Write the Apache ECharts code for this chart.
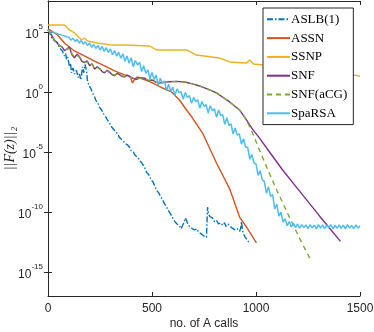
<!DOCTYPE html>
<html>
<head>
<meta charset="utf-8">
<script src="https://cdn.jsdelivr.net/npm/echarts@6/dist/echarts.min.js"></script>
<style>html,body{margin:0;padding:0;background:#fff}#c{width:374px;height:332px}</style>
</head>
<body>
<div id="c"></div>
<script>
// Values: arrays *Log hold log10(||F(z)||_2)
const seriesNames = ['ASLB(1)', 'ASSN', 'SSNP', 'SNF', 'SNF(aCG)', 'SpaRSA'];
const xTicks = [0, 500, 1000, 1500];
const yTickExps = [-15, -10, -5, 0, 5];

const aslbX = [0,7,15,22,30,38,46,55,62,70,78,85,89,95,103,108,113,120,128,137,145,151,158,166,172,178,185,190,198,206,214,222,230,240,248,258,266,275,285,296,305,315,325,335,344,352,362,372,382,392,400,410,420,430,440,450,462,474,485,495,505,515,522,532,541,551,560,570,580,590,599,610,620,630,640,647,655,660,666,672,680,688,695,705,715,725,735,743,750,757,762,765,767,772,780,791,800,810,820,830,839,848,856,865,873,882,890,900,910,921,926,930,936,942,948,954,960,965];
const aslbLog = [5.2,5.0,4.6,4.75,4.3,4.45,4.1,3.7,3.85,3.4,3.0,3.2,2.7,2.9,2.1,2.4,1.6,2.0,1.5,1.8,1.2,1.5,1.0,2.1,1.6,2.3,1.8,0.9,0.5,0.3,-0.1,-0.3,-0.7,-0.9,-1.3,-1.5,-1.8,-2.0,-2.3,-2.6,-2.9,-3.1,-3.3,-3.5,-3.8,-3.7,-4.1,-4.3,-4.4,-4.6,-4.9,-5.0,-5.3,-5.4,-5.7,-5.9,-6.2,-6.7,-6.9,-7.3,-7.5,-7.9,-8.2,-8.4,-8.7,-9.0,-9.3,-9.6,-9.9,-10.2,-10.5,-10.8,-11.0,-11.1,-11.4,-11.3,-10.8,-10.5,-10.7,-11.0,-11.2,-11.1,-11.4,-11.5,-11.4,-11.7,-11.8,-11.7,-12.0,-11.9,-12.1,-10.5,-9.6,-10.2,-10.4,-10.5,-10.8,-10.7,-11.0,-10.9,-11.1,-10.9,-11.2,-11.0,-10.9,-11.3,-11.2,-11.5,-11.4,-11.6,-11.4,-10.8,-11.6,-11.9,-12.1,-12.2,-12.4,-12.5];

const assnX = [0,7,46,79,127,175,224,272,320,368,395,406,418,430,469,502,551,594,632,666,695,743,810,873,921,954,1002];
const assnLog = [5.25,5.17,4.75,4.08,3.42,3.0,2.58,2.17,1.75,1.42,1.3,0.75,1.1,1.25,1.0,0.75,0.33,0.0,-0.67,-1.5,-2.17,-3.42,-5.92,-8.05,-10.42,-11.25,-12.58];

const ssnpX = [0,79,103,127,142,161,175,190,238,305,368,488,522,666,714,825,873,954,969,988,1036,1209,1354,1500];
const ssnpLog = [5.58,5.58,5.17,4.92,4.67,4.33,4.5,4.25,4.08,3.92,3.92,3.83,3.5,3.5,3.08,2.83,2.5,2.42,2.67,2.33,2.25,2.0,1.67,1.33];

const snfX = [0,15,31,45,55,68,79,92,103,115,127,140,151,163,175,188,200,212,224,236,248,260,272,284,296,308,320,332,344,356,368,380,392,405,425,440,464,480,502,520,536,560,584,618,656,695,728,777,810,839,873,921,954,983,1017,1065,1128,1195,1258,1306,1354,1406];
const snfLog = [5.17,4.8,4.3,4.05,3.85,3.75,3.45,3.6,3.75,3.1,2.85,3.15,2.95,2.55,2.45,2.6,2.2,2.35,1.9,2.1,1.95,1.7,1.6,1.8,1.65,1.45,1.35,1.55,1.45,1.3,1.25,1.4,1.3,1.15,1.05,1.2,1.15,0.95,1.0,0.8,0.75,0.82,0.85,0.88,0.83,0.67,0.5,0.17,-0.08,-0.42,-0.83,-1.5,-2.33,-3.1,-3.85,-5.0,-6.5,-7.95,-9.3,-10.35,-11.35,-12.45];

const acgX = [0,15,31,45,55,68,79,92,103,115,127,140,151,163,175,188,200,212,224,236,248,260,272,284,296,308,320,332,344,356,368,380,392,405,425,440,464,480,502,520,536,560,584,618,656,695,728,777,810,839,873,921,954,983,1017,1050,1099,1161,1224,1262];
const acgLog = [5.17,4.75,4.35,4.0,3.9,3.7,3.5,3.55,3.65,3.2,2.9,3.05,2.9,2.6,2.5,2.5,2.25,2.3,1.95,2.05,1.9,1.75,1.65,1.75,1.6,1.5,1.4,1.5,1.4,1.35,1.3,1.35,1.25,1.2,1.0,1.15,1.1,1.0,0.95,0.82,0.78,0.82,0.85,0.88,0.83,0.67,0.5,0.17,-0.08,-0.42,-0.83,-1.5,-2.33,-3.4,-4.85,-6.2,-8.15,-10.45,-12.7,-13.95];

const sparsaX = [0,10,20,30,40,50,60,70,80,90,100,110,120,130,140,150,160,170,180,190,200,210,220,230,240,250,260,270,280,290,300,310,320,330,340,350,360,370,380,390,400,410,420,430,440,450,460,470,480,490,500,510,520,530,540,550,560,570,580,590,600,610,620,630,640,650,660,670,680,690,700,710,720,730,740,750,760,770,780,790,800,810,820,830,840,850,860,870,880,890,900,910,920,930,940,950,960,970,980,990,1000,1010,1020,1030,1040,1050,1060,1070,1080,1090,1100,1110,1120,1130,1140,1150,1160,1170,1180,1190,1200,1210,1220,1230,1240,1250,1260,1270,1280,1290,1300,1310,1320,1330,1340,1350,1360,1370,1380,1390,1400,1410,1420,1430,1440,1450,1460,1470,1480,1490,1500];
const sparsaLog = [5.10,5.04,5.00,4.92,4.89,4.81,4.78,4.70,4.68,4.58,4.57,
4.32,4.48,4.22,4.38,4.08,4.28,3.98,4.18,3.88,4.08,
3.72,3.98,3.62,3.88,3.50,3.80,3.38,3.70,3.30,3.58,
3.10,3.45,2.98,3.32,2.80,3.18,2.55,3.00,2.40,2.85,
2.10,2.62,2.25,2.48,1.70,2.20,1.55,1.85,1.10,1.62,
1.05,1.40,0.55,1.15,0.70,0.92,0.10,0.65,0.05,0.40,
-0.30,0.25,-0.05,0.02,-0.60,-0.05,-0.45,-0.30,-0.95,-0.45,
-0.80,-0.65,-1.35,-0.80,-1.20,-1.05,-1.75,-1.15,-1.55,-1.40,
-2.10,-1.50,-1.95,-1.90,-2.70,-2.15,-2.80,-2.65,-3.50,-3.00,
-3.60,-3.50,-4.35,-3.90,-4.60,-4.60,-5.60,-5.20,-5.90,-6.00,
-6.95,-6.55,-7.30,-7.45,-8.45,-7.90,-8.70,-8.55,-9.75,-9.35,
-10.35,-10.00,-10.85,-10.55,-11.15,-10.80,-11.25,-10.95,-11.30,-11.00,
-11.35,-11.05,-11.30,-11.08,-11.38,-11.05,-11.32,-11.10,-11.40,-11.06,
-11.34,-11.08,-11.38,-11.10,-11.32,-11.05,-11.40,-11.12,-11.35,-11.08,
-11.36,-11.10,-11.40,-11.06,-11.34,-11.12,-11.38,-11.08,-11.35,-11.15];

const colors = ['#0072BD', '#D95319', '#EDB120', '#7E2F8E', '#77AC30', '#4DBEEE'];
const dashes = [[6, 2, 1.5, 2], 'solid', 'solid', 'solid', [5, 4], 'solid'];
const xs = [aslbX, assnX, ssnpX, snfX, acgX, sparsaX];
const logs = [aslbLog, assnLog, ssnpLog, snfLog, acgLog, sparsaLog];

const yMin = 1e-17, yMax = Math.pow(10, 7.58);
const yTickVals = yTickExps.map(e => Math.pow(10, e));
const axisColor = '#262626';
const sansFont = 'Liberation Sans, Arial, sans-serif';
const serifFont = 'Liberation Serif, DejaVu Serif, serif';

const chart = echarts.init(document.getElementById('c'), null, {renderer: 'canvas'});
const series = seriesNames.map((name, k) => ({
  name: name,
  type: 'line',
  xAxisIndex: 0,
  yAxisIndex: 0,
  symbol: 'none',
  showSymbol: false,
  animation: false,
  lineStyle: {color: colors[k], width: k === 5 ? 1.5 : 1.4, type: dashes[k]},
  itemStyle: {color: colors[k]},
  data: xs[k].map((x, i) => [x, Math.pow(10, logs[k][i])])
}));

const yLabelFmt = v => {
  const e = Math.round(Math.log10(v));
  return '{b|10}{e|' + e + '}';
};

chart.setOption({
  animation: false,
  backgroundColor: '#fff',
  grid: {left: 48, right: 14, top: 1, bottom: 36, containLabel: false, outerBoundsMode: 'none'},
  legend: {
    data: seriesNames,
    orient: 'vertical',
    left: 263, top: 8,
    width: 90,
    backgroundColor: '#fff',
    borderColor: axisColor,
    borderWidth: 1,
    borderRadius: 0,
    padding: [4, 6, 4, 3],
    itemWidth: 23, itemHeight: 2, itemGap: 4.2,
    itemStyle: {color: 'rgba(0,0,0,0)', borderWidth: 0, opacity: 0},
    textStyle: {fontFamily: serifFont, fontSize: 13, color: '#000', lineHeight: 14.6, padding: [0, 0, 0, -4]}
  },
  xAxis: [{
    type: 'value', min: 0, max: 1500, interval: 500, position: 'bottom',
    axisLine: {show: true, lineStyle: {color: axisColor, width: 1}},
    axisTick: {show: true, inside: true, length: 4, lineStyle: {color: axisColor}},
    axisLabel: {color: axisColor, fontFamily: sansFont, fontSize: 12, margin: 7,
      formatter: v => String(v)},
    splitLine: {show: false},
    name: 'no. of A calls', nameLocation: 'middle', nameGap: 22, nameMoveOverlap: false,
    nameTextStyle: {color: axisColor, fontFamily: sansFont, fontSize: 12}
  }, {
    type: 'value', min: 0, max: 1500, interval: 500, position: 'top',
    axisLine: {show: true, onZero: false, lineStyle: {color: axisColor, width: 1}},
    axisTick: {show: true, inside: true, length: 4, lineStyle: {color: axisColor}},
    axisLabel: {show: false}, splitLine: {show: false}
  }],
  yAxis: [{
    type: 'log', min: yMin, max: yMax, position: 'left',
    axisLine: {show: true, lineStyle: {color: axisColor, width: 1}},
    axisTick: {show: true, inside: true, length: 4, lineStyle: {color: axisColor}, customValues: yTickVals},
    minorTick: {show: false},
    axisLabel: {
      customValues: yTickVals,
      formatter: yLabelFmt, margin: 5,
      rich: {
        b: {fontFamily: sansFont, fontSize: 12, color: axisColor, verticalAlign: 'bottom', lineHeight: 18},
        e: {fontFamily: sansFont, fontSize: 8, color: axisColor, verticalAlign: 'top', lineHeight: 18}
      }
    },
    splitLine: {show: false},
    name: '||F(z)||\u2082', nameLocation: 'middle', nameGap: 31, nameRotate: 90, nameMoveOverlap: false,
    nameTextStyle: {color: axisColor, fontFamily: serifFont, fontStyle: 'italic', fontSize: 14}
  }, {
    type: 'log', min: yMin, max: yMax, position: 'right',
    axisLine: {show: true, lineStyle: {color: axisColor, width: 1}},
    axisTick: {show: true, inside: true, length: 4, lineStyle: {color: axisColor}, customValues: yTickVals},
    axisLabel: {show: false, customValues: yTickVals}, splitLine: {show: false}
  }],
  series: series
});
</script>
</body>
</html>
